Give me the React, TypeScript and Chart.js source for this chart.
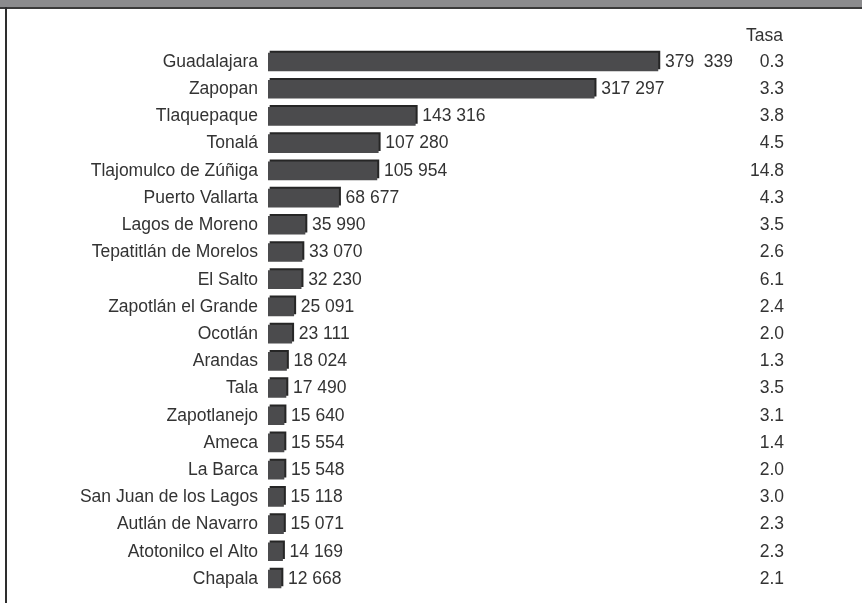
import React, { useEffect, useRef } from "react";
import { Chart, registerables } from "chart.js";

Chart.register(...registerables);

const municipios = [
  "Guadalajara",
  "Zapopan",
  "Tlaquepaque",
  "Tonalá",
  "Tlajomulco de Zúñiga",
  "Puerto Vallarta",
  "Lagos de Moreno",
  "Tepatitlán de Morelos",
  "El Salto",
  "Zapotlán el Grande",
  "Ocotlán",
  "Arandas",
  "Tala",
  "Zapotlanejo",
  "Ameca",
  "La Barca",
  "San Juan de los Lagos",
  "Autlán de Navarro",
  "Atotonilco el Alto",
  "Chapala",
];

const valores = [
  379339, 317297, 143316, 107280, 105954, 68677, 35990, 33070, 32230, 25091,
  23111, 18024, 17490, 15640, 15554, 15548, 15118, 15071, 14169, 12668,
];

const etiquetasValor = [
  "379  339", "317 297", "143 316", "107 280", "105 954", "68 677", "35 990",
  "33 070", "32 230", "25 091", "23 111", "18 024", "17 490", "15 640",
  "15 554", "15 548", "15 118", "15 071", "14 169", "12 668",
];

const tasas = [
  "0.3", "3.3", "3.8", "4.5", "14.8", "4.3", "3.5", "2.6", "6.1", "2.4",
  "2.0", "1.3", "3.5", "3.1", "1.4", "2.0", "3.0", "2.3", "2.3", "2.1",
];

const tasaTitulo = "Tasa";

const FONT = "'Liberation Sans', Arial, Helvetica, sans-serif";
const FONT_SIZE = 17.5;
const TEXT_COLOR = "#333333";

const shadowPlugin = {
  id: "barShadow",
  beforeDatasetsDraw(chart: any) {
    const ctx = chart.ctx;
    ctx.save();
    ctx.shadowColor = "#262626";
    ctx.shadowOffsetX = 2;
    ctx.shadowOffsetY = -2;
    ctx.shadowBlur = 0;
  },
  afterDatasetsDraw(chart: any) {
    chart.ctx.restore();
  },
};

const labelsPlugin = {
  id: "rowLabels",
  afterDraw(chart: any) {
    const ctx = chart.ctx;
    const meta = chart.getDatasetMeta(0);
    const area = chart.chartArea;
    ctx.save();
    ctx.fillStyle = TEXT_COLOR;
    ctx.font = `${FONT_SIZE}px ${FONT}`;
    ctx.textBaseline = "middle";
    meta.data.forEach((el: any, i: number) => {
      ctx.textAlign = "left";
      ctx.fillText(etiquetasValor[i], el.x + 7, el.y);
      ctx.textAlign = "right";
      ctx.fillText(tasas[i], area.right, el.y);
    });
    const first = meta.data[0];
    if (first) {
      ctx.textAlign = "right";
      ctx.fillText(tasaTitulo, area.right - 1, first.y - 26);
    }
    ctx.restore();
  },
};

export default function App() {
  const ref = useRef<HTMLCanvasElement | null>(null);

  useEffect(() => {
    if (!ref.current) return;
    const chart = new Chart(ref.current, {
      type: "bar",
      data: {
        labels: municipios,
        datasets: [
          {
            data: valores,
            backgroundColor: "#4b4b4d",
            borderWidth: 0,
            barThickness: 18,
          },
        ],
      },
      options: {
        indexAxis: "y",
        responsive: false,
        animation: false,
        layout: {
          padding: { left: 0, right: 78, top: 48.4, bottom: 10.4 },
        },
        plugins: {
          legend: { display: false },
          tooltip: { enabled: false },
        },
        scales: {
          x: {
            display: false,
            min: 0,
            max: 502000,
          },
          y: {
            afterFit(scale: any) {
              scale.width = 268;
              scale.paddingTop = 0;
              scale.paddingBottom = 0;
            },
            grid: { display: false, drawTicks: false },
            border: { display: false },
            ticks: {
              padding: 10,
              color: TEXT_COLOR,
              font: { family: FONT, size: FONT_SIZE },
              autoSkip: false,
            },
          },
        },
      },
      plugins: [shadowPlugin, labelsPlugin],
    });
    return () => chart.destroy();
  }, []);

  return (
    <div
      style={{
        position: "fixed",
        left: 0,
        top: 0,
        width: 862,
        height: 603,
        background: "#ffffff",
        overflow: "hidden",
      }}
    >
      <canvas
        ref={ref}
        width={862}
        height={603}
        style={{ position: "absolute", left: 0, top: 0 }}
      />
      <div
        style={{
          position: "absolute",
          left: 0,
          top: 0,
          width: 862,
          height: 7,
          background: "#8b8b8d",
          borderBottom: "2px solid #3a3a3a",
        }}
      />
      <div
        style={{
          position: "absolute",
          left: 5,
          top: 7,
          width: 2,
          height: 596,
          background: "#2e2e2e",
        }}
      />
    </div>
  );
}
